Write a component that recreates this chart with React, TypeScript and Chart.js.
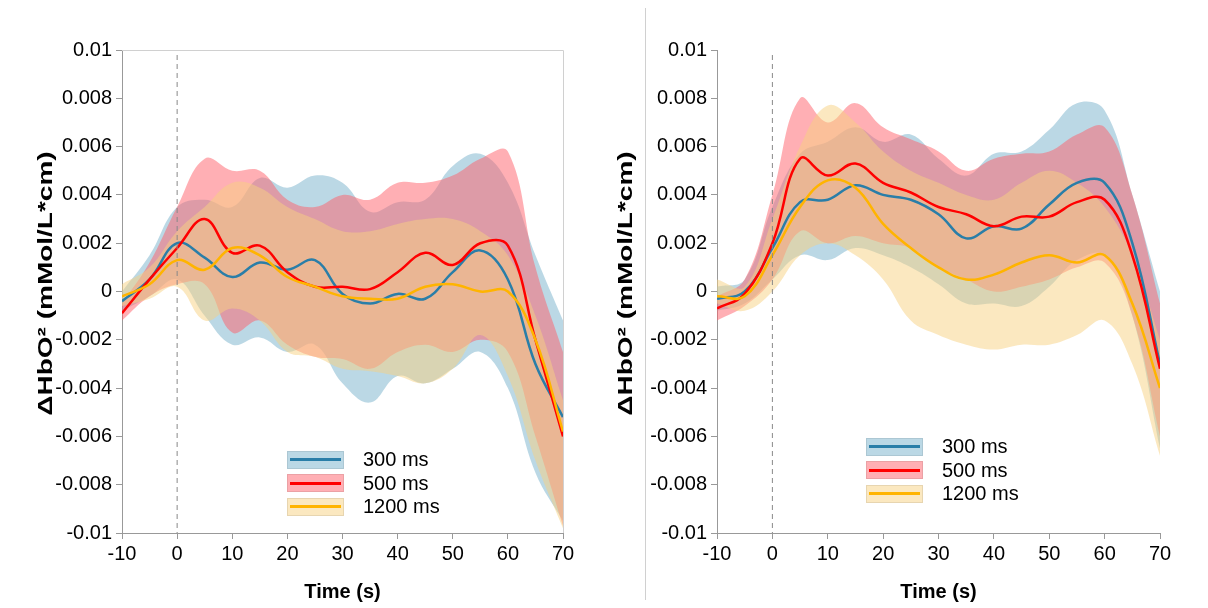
import React, { useEffect, useRef } from 'react';
import { Chart, registerables } from 'chart.js';

Chart.register(...registerables);

const times = [-10, -5, 0, 5, 10, 15, 20, 25, 30, 35, 40, 45, 50, 55, 60, 65, 70];
const seriesNames = ['300 ms', '500 ms', '1200 ms'];
const yTitle = 'ΔHbO² (mMol/L*cm)';

// left panel
const l300 = [-0.0004, 0.0005, 0.002, 0.0014, 0.0006, 0.0012, 0.0009, 0.0013, -0.0001, -0.0005, -0.0001, -0.0003, 0.0008, 0.0017, 0.0005, -0.003, -0.0052];
const l300Hi = [0, 0.0015, 0.0035, 0.0038, 0.0035, 0.0047, 0.0043, 0.0048, 0.0045, 0.0033, 0.0037, 0.0038, 0.0052, 0.0057, 0.0045, 0.0015, -0.0012];
const l300Lo = [-0.0008, -0.0002, 0.0005, -0.001, -0.0022, -0.0019, -0.0025, -0.0022, -0.0038, -0.0046, -0.0035, -0.0038, -0.0032, -0.0025, -0.004, -0.0075, -0.0095];
const l500 = [-0.0009, 0.0005, 0.0018, 0.003, 0.0016, 0.0019, 0.0008, 0.0002, 0.0002, 0.0001, 0.0008, 0.0016, 0.0011, 0.002, 0.0019, -0.002, -0.006];
const l500Hi = [-0.0005, 0.0012, 0.0035, 0.0055, 0.005, 0.005, 0.0038, 0.0035, 0.004, 0.0038, 0.0045, 0.0045, 0.0048, 0.0055, 0.0058, 0.001, -0.0025];
const l500Lo = [-0.0012, -0.0002, 0.0003, 0.0003, -0.0017, -0.0012, -0.0022, -0.0027, -0.0028, -0.0032, -0.0025, -0.0022, -0.0025, -0.002, -0.0025, -0.006, -0.0097];
const l1200 = [-0.0002, 0.0003, 0.0013, 0.0009, 0.0018, 0.0015, 0.0006, 0.0002, -0.0002, -0.0003, -0.0003, 0.0002, 0.0003, 0, 0, -0.002, -0.0058];
const l1200Hi = [0.0003, 0.001, 0.0025, 0.0035, 0.0045, 0.0043, 0.0035, 0.003, 0.0025, 0.0025, 0.0028, 0.003, 0.003, 0.0025, 0.0015, -0.001, -0.0045];
const l1200Lo = [-0.0006, -0.0003, 0.0002, -0.0012, -0.0007, -0.0012, -0.0025, -0.0027, -0.0032, -0.0033, -0.0035, -0.0038, -0.0032, -0.0018, -0.0035, -0.007, -0.0098];

// right panel
const r300 = [-0.0003, 0, 0.0018, 0.0037, 0.0038, 0.0044, 0.004, 0.0038, 0.0032, 0.0022, 0.0027, 0.0026, 0.0036, 0.0045, 0.0045, 0.002, -0.003];
const r300Hi = [0.0002, 0.0005, 0.0035, 0.0057, 0.0062, 0.0068, 0.0062, 0.0065, 0.0055, 0.0048, 0.0057, 0.0058, 0.0067, 0.0078, 0.0075, 0.004, 0];
const r300Lo = [-0.0008, -0.0005, 0.0005, 0.0015, 0.0013, 0.0018, 0.0015, 0.001, 0.0003, -0.0005, -0.0005, -0.0006, 0.0002, 0.0013, 0.0015, -0.001, -0.0065];
const r500 = [-0.0007, -0.0001, 0.002, 0.0055, 0.0048, 0.0053, 0.0045, 0.0041, 0.0035, 0.0032, 0.0027, 0.0031, 0.0031, 0.0037, 0.0038, 0.0015, -0.0032];
const r500Hi = [-0.0002, 0.0005, 0.004, 0.008, 0.007, 0.0078, 0.0068, 0.0063, 0.0058, 0.005, 0.0055, 0.0057, 0.0058, 0.0065, 0.0068, 0.004, -0.0005];
const r500Lo = [-0.0012, -0.0006, 0.0005, 0.0025, 0.002, 0.0023, 0.002, 0.0018, 0.001, 0.0005, 0, 0.0002, 0.0005, 0.001, 0.0012, -0.001, -0.006];
const r1200 = [-0.0002, -0.0002, 0.0015, 0.0035, 0.0046, 0.0043, 0.0028, 0.0018, 0.001, 0.0005, 0.0007, 0.0012, 0.0015, 0.0012, 0.0015, -0.0005, -0.004];
const r1200Hi = [0.0005, 0.0002, 0.003, 0.006, 0.0077, 0.007, 0.0058, 0.005, 0.0045, 0.004, 0.0038, 0.0045, 0.005, 0.0045, 0.0035, 0.0015, -0.002];
const r1200Lo = [-0.0005, -0.0008, 0, 0.0015, 0.002, 0.0015, 0.0005, -0.0012, -0.0018, -0.0022, -0.0024, -0.0022, -0.0022, -0.0018, -0.0012, -0.003, -0.0068];

const lineColors = ['#2a7ea8', '#ff0000', '#ffb400'];
const bandColors = ['rgba(120,178,204,0.5)', 'rgba(255,95,105,0.5)', 'rgba(248,210,130,0.5)'];
const FONT = '"Liberation Sans", Arial, sans-serif';

type Series = { mean: number[]; hi: number[]; lo: number[] };

function buildDatasets(series: Series[]) {
  const ds: any[] = [];
  series.forEach((s, i) => {
    const hiIdx = ds.length;
    ds.push({
      data: s.hi.map((y, k) => ({ x: times[k], y })),
      borderWidth: 0, pointRadius: 0, tension: 0.4,
      backgroundColor: bandColors[i], fill: { target: hiIdx + 1 }, order: 10 - i,
    });
    ds.push({
      data: s.lo.map((y, k) => ({ x: times[k], y })),
      borderWidth: 0, pointRadius: 0, tension: 0.4, fill: false, order: 10 - i,
    });
  });
  series.forEach((s, i) => {
    ds.push({
      data: s.mean.map((y, k) => ({ x: times[k], y })),
      borderColor: lineColors[i], borderWidth: 2.5, pointRadius: 0, tension: 0.4, fill: false, order: 3 - i,
    });
  });
  return ds;
}

const decor = (box: boolean, titleX: number) => ({
  id: 'decor',
  afterDatasetsDraw(chart: any) {
    const { ctx, chartArea, scales } = chart;
    const x0 = scales.x.getPixelForValue(0);
    ctx.save();
    ctx.strokeStyle = '#888';
    ctx.lineWidth = 1;
    ctx.setLineDash([5, 4]);
    ctx.beginPath();
    ctx.moveTo(x0, chartArea.top + 5);
    ctx.lineTo(x0, chartArea.bottom);
    ctx.stroke();
    ctx.setLineDash([]);
    if (box) {
      ctx.strokeStyle = '#d0d0d0';
      ctx.beginPath();
      ctx.moveTo(chartArea.left, chartArea.top + 0.5);
      ctx.lineTo(chartArea.right + 0.5, chartArea.top + 0.5);
      ctx.lineTo(chartArea.right + 0.5, chartArea.bottom);
      ctx.stroke();
    }
    ctx.restore();
  },
  afterDraw(chart: any) {
    const { ctx, chartArea } = chart;
    ctx.save();
    ctx.translate(titleX, (chartArea.top + chartArea.bottom) / 2 - 8);
    ctx.rotate(-Math.PI / 2);
    ctx.scale(1.4, 1);
    ctx.font = `bold 20px ${FONT}`;
    ctx.fillStyle = '#000';
    ctx.textAlign = 'center';
    ctx.textBaseline = 'middle';
    ctx.fillText(yTitle, 0, 0);
    ctx.restore();
  },
});

function Panel({ series, yWidth, rightPad, box, titleX }: { series: Series[]; yWidth: number; rightPad: number; box: boolean; titleX: number }) {
  const ref = useRef<HTMLCanvasElement | null>(null);
  useEffect(() => {
    if (!ref.current) return;
    const chart = new Chart(ref.current, {
      type: 'line',
      data: { datasets: buildDatasets(series) },
      plugins: [decor(box, titleX)],
      options: {
        animation: false,
        responsive: false,
        layout: { padding: { top: 50, right: rightPad, left: 0, bottom: 0 } },
        plugins: { legend: { display: false }, tooltip: { enabled: false } },
        scales: {
          x: {
            type: 'linear', min: -10, max: 70,
            ticks: { stepSize: 10, color: '#000', font: { family: FONT, size: 20 }, padding: 3 },
            grid: { drawOnChartArea: false, tickLength: 6, color: '#999' },
            border: { color: '#999' },
            title: { display: true, text: 'Time (s)', color: '#000', font: { family: FONT, size: 20, weight: 'bold' }, padding: { top: 10 } },
            afterFit: (s: any) => { s.height = 75; },
          },
          y: {
            min: -0.01, max: 0.01,
            ticks: { stepSize: 0.002, color: '#000', font: { family: FONT, size: 20 }, padding: 4,
              callback: (v: any) => { const n = Math.round(Number(v) * 1000) / 1000; return n === 0 ? '0' : String(n); } },
            grid: { drawOnChartArea: false, tickLength: 6, color: '#999' },
            border: { color: '#999' },
            afterFit: (s: any) => { s.width = yWidth; },
          },
        },
      },
    });
    return () => chart.destroy();
  }, []);
  return <canvas ref={ref} width={600} height={608} />;
}

function Legend({ left, top }: { left: number; top: number }) {
  return (
    <div style={{ position: 'absolute', left, top, fontFamily: FONT, fontSize: 20 }}>
      {seriesNames.map((n, i) => (
        <div key={n} style={{ display: 'flex', alignItems: 'center', height: 23.5 }}>
          <div style={{ width: 55, height: 16, background: bandColors[i], border: '1px solid rgba(0,0,0,0.08)', position: 'relative' }}>
            <div style={{ position: 'absolute', left: 2, right: 2, top: 6.5, height: 3, background: lineColors[i] }} />
          </div>
          <span style={{ marginLeft: 19 }}>{n}</span>
        </div>
      ))}
    </div>
  );
}

export default function App() {
  const left: Series[] = [
    { mean: l300, hi: l300Hi, lo: l300Lo },
    { mean: l500, hi: l500Hi, lo: l500Lo },
    { mean: l1200, hi: l1200Hi, lo: l1200Lo },
  ];
  const right: Series[] = [
    { mean: r300, hi: r300Hi, lo: r300Lo },
    { mean: r500, hi: r500Hi, lo: r500Lo },
    { mean: r1200, hi: r1200Hi, lo: r1200Lo },
  ];
  return (
    <div style={{ position: 'fixed', left: 0, top: 0, width: 1208, height: 608, background: '#fff' }}>
      <div style={{ position: 'absolute', left: 0, top: 0 }}>
        <Panel series={left} yWidth={122} rightPad={37} box={true} titleX={46} />
      </div>
      <div style={{ position: 'absolute', left: 610, top: 0 }}>
        <Panel series={right} yWidth={107} rightPad={50} box={false} titleX={16} />
      </div>
      <div style={{ position: 'absolute', left: 645, top: 8, width: 0, height: 592, borderLeft: '1px solid #d0d0d0' }} />
      <Legend left={287} top={448} />
      <Legend left={866} top={435} />
    </div>
  );
}
